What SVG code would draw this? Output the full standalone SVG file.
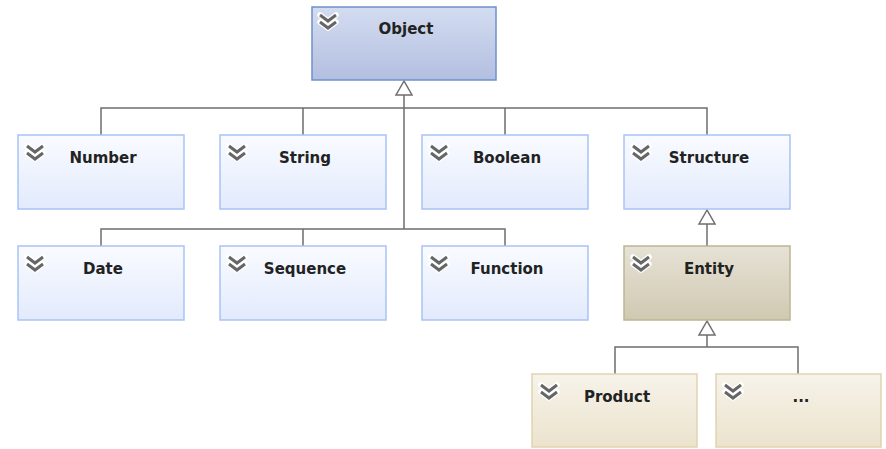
<svg xmlns="http://www.w3.org/2000/svg" width="886" height="449" viewBox="0 0 886 449">
<defs>
<linearGradient id="gObj" x1="0" y1="0" x2="0" y2="1"><stop offset="0" stop-color="#d3dcf0"/><stop offset="1" stop-color="#b3bfe0"/></linearGradient>
<linearGradient id="gBlue" x1="0" y1="0" x2="0" y2="1"><stop offset="0" stop-color="#f9fbff"/><stop offset="1" stop-color="#e2eafc"/></linearGradient>
<linearGradient id="gEnt" x1="0" y1="0" x2="0" y2="1"><stop offset="0" stop-color="#e6e2d5"/><stop offset="1" stop-color="#d0c9b2"/></linearGradient>
<linearGradient id="gTan" x1="0" y1="0" x2="0" y2="1"><stop offset="0" stop-color="#f7f3ea"/><stop offset="1" stop-color="#ebe3cd"/></linearGradient>
<g id="chev">
<path d="M2,2 L10,8 L18,2 M2,9 L10,15 L18,9" fill="none" stroke="#ffffff" stroke-width="5.5" stroke-linejoin="round" stroke-linecap="round"/>
<path d="M2,2 L10,8 L18,2 M2,9 L10,15 L18,9" fill="none" stroke="#666666" stroke-width="3"/>
</g>
</defs>
<style>
.box{stroke-width:1.5}
.obj{fill:url(#gObj);stroke:#6f90cb}
.blue{fill:url(#gBlue);stroke:#a9c3f6}
.ent{fill:url(#gEnt);stroke:#bfb594}
.tan{fill:url(#gTan);stroke:#e0d3b0}
.lbl{font-family:"DejaVu Sans",Verdana,sans-serif;font-weight:bold;font-size:15px;fill:#222222;text-anchor:middle}
.ln{fill:none;stroke:#6e6e6e;stroke-width:1.5}
.tri{fill:#ffffff;stroke:#6e6e6e;stroke-width:1.5}
</style>
<g id="connectors">
<path class="ln" d="M404,95 V229 M101,135 V108 H707 V135 M303,108 V135 M505,108 V135 M101,246 V229 H505 V246 M303,229 V246"/>
<polygon class="tri" points="404,81 396,95 412,95"/>
<path class="ln" d="M707,224 V246"/>
<polygon class="tri" points="707,210 699,224 715,224"/>
<path class="ln" d="M707,335 V347 M615,374 V347 H798 V374"/>
<polygon class="tri" points="707,321 699,335 715,335"/>
</g>
<g id="Object"><rect class="box obj" x="312" y="7" width="184" height="73"/><use href="#chev" x="318" y="13"/><text class="lbl" x="406" y="34">Object</text></g>
<g id="Number"><rect class="box blue" x="18" y="135" width="166" height="74"/><use href="#chev" x="25" y="144"/><text class="lbl" x="103" y="163">Number</text></g>
<g id="String"><rect class="box blue" x="220" y="135" width="166" height="74"/><use href="#chev" x="227" y="144"/><text class="lbl" x="305" y="163">String</text></g>
<g id="Boolean"><rect class="box blue" x="422" y="135" width="166" height="74"/><use href="#chev" x="429" y="144"/><text class="lbl" x="507" y="163">Boolean</text></g>
<g id="Structure"><rect class="box blue" x="624" y="135" width="166" height="74"/><use href="#chev" x="631" y="144"/><text class="lbl" x="709" y="163">Structure</text></g>
<g id="Date"><rect class="box blue" x="18" y="246" width="166" height="74"/><use href="#chev" x="25" y="255"/><text class="lbl" x="103" y="274">Date</text></g>
<g id="Sequence"><rect class="box blue" x="220" y="246" width="166" height="74"/><use href="#chev" x="227" y="255"/><text class="lbl" x="305" y="274">Sequence</text></g>
<g id="Function"><rect class="box blue" x="422" y="246" width="166" height="74"/><use href="#chev" x="429" y="255"/><text class="lbl" x="507" y="274">Function</text></g>
<g id="Entity"><rect class="box ent" x="624" y="246" width="166" height="74"/><use href="#chev" x="631" y="255"/><text class="lbl" x="709" y="274">Entity</text></g>
<g id="Product"><rect class="box tan" x="532" y="374" width="165" height="73"/><use href="#chev" x="539" y="383"/><text class="lbl" x="617" y="402">Product</text></g>
<g id="More"><rect class="box tan" x="716" y="374" width="165" height="73"/><use href="#chev" x="723" y="383"/><text class="lbl" x="801" y="402">...</text></g>
</svg>
